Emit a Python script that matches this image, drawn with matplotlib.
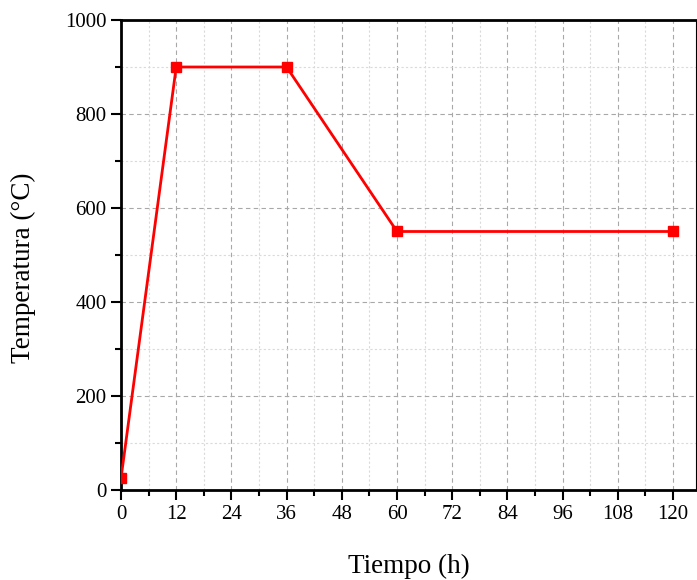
import matplotlib.pyplot as plt
import numpy as np
from matplotlib.ticker import MultipleLocator

plt.rcParams['font.family'] = ['Liberation Serif', 'DejaVu Serif']

tiempo = [0, 12, 36, 60, 120]
temperatura = [25, 900, 900, 550, 550]

fig = plt.figure(figsize=(6.97, 5.8), dpi=100)
ax = fig.add_axes([0.1736, 0.1552, 0.8250, 0.8103])

ax.plot(tiempo, temperatura, color='#ff0000', lw=2, marker='s', ms=7, zorder=3)

ax.set_xlim(0, 125)
ax.set_ylim(0, 1000)
ax.xaxis.set_major_locator(MultipleLocator(12))
ax.xaxis.set_minor_locator(MultipleLocator(6))
ax.yaxis.set_major_locator(MultipleLocator(200))
ax.yaxis.set_minor_locator(MultipleLocator(100))
ax.set_xticks(np.arange(0, 121, 12))

ax.grid(which='major', color='#a8a8a8', ls=(0, (4, 3)), lw=0.8)
ax.grid(which='minor', color='#dadada', ls=(0, (2, 2)), lw=0.8)
ax.set_axisbelow(True)

ax.tick_params(which='major', direction='out', length=7, width=1.5, labelsize=15, top=False, right=False)
ax.tick_params(which='minor', direction='out', length=4, width=1.5, top=False, right=False)
for side in ['left', 'bottom', 'top']:
    ax.spines[side].set_linewidth(2)
ax.spines['right'].set_linewidth(0.8)

ax.set_xlabel('Tiempo (h)', fontsize=19.5, labelpad=22)
ax.set_ylabel('Temperatura (°C)', fontsize=19.5)
ax.yaxis.set_label_coords(-0.148, 0.472)

fig.savefig('out.png', dpi=100)
